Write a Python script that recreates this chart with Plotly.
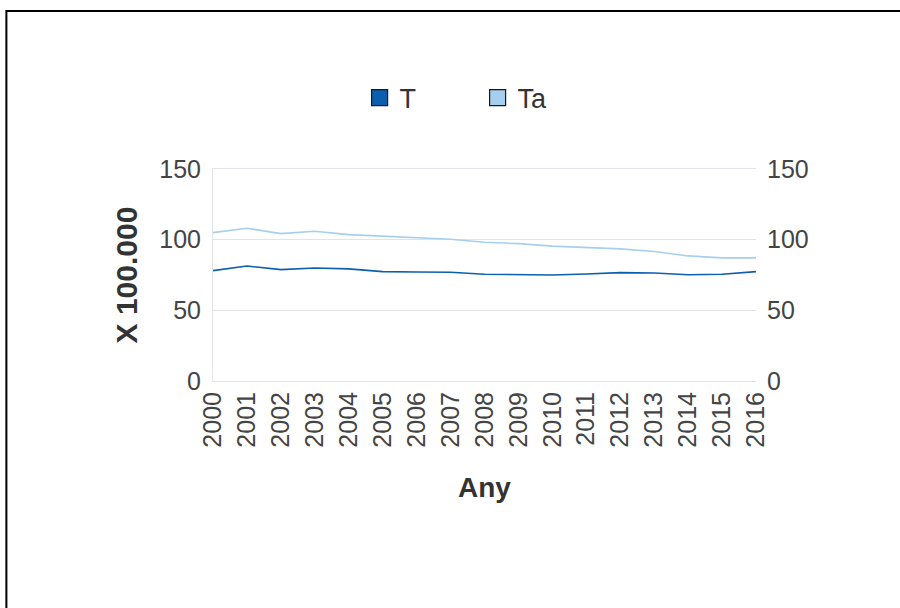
import plotly.graph_objects as go

years = [str(y) for y in range(2000, 2017)]
t_values = [78.1, 81.4, 78.8, 80.0, 79.3, 77.4, 77.1, 76.9, 75.5, 75.5, 75.0, 75.7, 76.7, 76.4, 75.2, 75.5, 77.4]
ta_values = [105.0, 108.1, 104.3, 106.0, 103.6, 102.4, 101.3, 100.3, 98.2, 97.2, 95.4, 94.2, 93.5, 91.6, 88.5, 87.1, 87.1]
series_names = ["T", "Ta"]
series_colors = ["#0b5fae", "#a6cfef"]
y_ticks = [0, 50, 100, 150]

fig = go.Figure()
for name, vals, col in zip(series_names, [t_values, ta_values], series_colors):
    fig.add_trace(go.Scatter(x=years, y=vals, mode="lines", name=name,
                             line=dict(color=col, width=1.6), showlegend=False))
    fig.add_trace(go.Scatter(x=[None], y=[None], mode="markers", name=name,
                             marker=dict(symbol="square", size=17, color=col,
                                         line=dict(color="#1a1a1a", width=1.2))))
fig.add_trace(go.Scatter(x=years, y=[None]*len(years), yaxis="y2", showlegend=False,
                         hoverinfo="skip"))

ytick_font = dict(family="Arial", size=25, color="#444444")
xtick_font = dict(family="Arial", size=25, color="#444444")
fig.update_layout(
    width=900, height=608,
    margin=dict(l=213, r=144, t=169, b=227),
    paper_bgcolor="white", plot_bgcolor="white",
    font=dict(family="Arial", color="#333333"),
    legend=dict(orientation="h", x=0.27, y=1.335, xanchor="left", yanchor="middle",
                font=dict(family="Arial", size=27, color="#333333"),
                entrywidth=73, entrywidthmode="pixels", itemsizing="trace"),
    xaxis=dict(type="category", tickangle=-90, tickfont=xtick_font, showgrid=False,
               showline=True, linecolor="#e3e3ea", linewidth=1, mirror=True,
               ticks="", range=[0, 16],
               title=dict(text="<b>Any</b>", font=dict(family="Arial", size=28, color="#333333"), standoff=30)),
    yaxis=dict(range=[0, 150], tickvals=y_ticks, tickfont=ytick_font, showgrid=True,
               gridcolor="#e3e3e3", gridwidth=1, zeroline=False,
               showline=True, linecolor="#e3e3ea", linewidth=1, ticks="",
               ticklabelstandoff=6,
               title=dict(text="<b>X 100.000</b>", font=dict(family="Arial", size=30, color="#333333"), standoff=12)),
    yaxis2=dict(range=[0, 150], tickvals=y_ticks, tickfont=ytick_font, overlaying="y",
                side="right", showgrid=False, zeroline=False, showline=False,
                ticklabelstandoff=10),
    shapes=[
        dict(type="line", xref="paper", yref="paper", x0=-0.381, x1=1.5, y0=1.745, y1=1.745,
             line=dict(color="black", width=2)),
        dict(type="line", xref="paper", yref="paper", x0=-0.3805, x1=-0.3805, y0=1.75, y1=-1.2,
             line=dict(color="black", width=2)),
    ],
)
fig.write_html("out.html", config={"displayModeBar": False},
               post_script="document.body.style.margin='0px';")
